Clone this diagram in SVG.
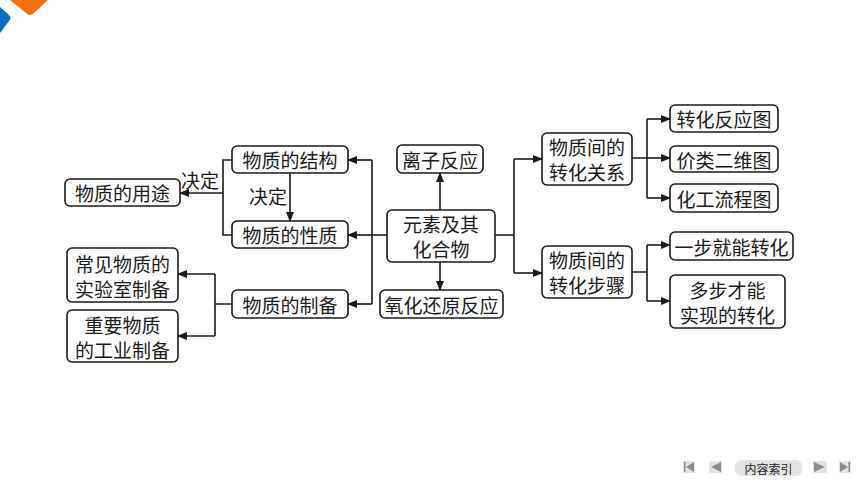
<svg xmlns="http://www.w3.org/2000/svg" width="860" height="484" viewBox="0 0 860 484">
<style>
.box{fill:#fff;stroke:#1a1a1a;stroke-width:1.6}
.t{font-family:"Noto Sans CJK SC","Noto Sans CJK JP",sans-serif;font-size:19px;fill:#1a1a1a;text-anchor:middle;dominant-baseline:central}
.ln{fill:none;stroke:#1a1a1a;stroke-width:1.6}
.ar{fill:none;stroke:#1a1a1a;stroke-width:1.6;marker-end:url(#ah)}
.nav{fill:#e3e3e3}
.navi{fill:#8c8c8c}
</style>
<defs>
<marker id="ah" markerUnits="userSpaceOnUse" markerWidth="10" markerHeight="8" refX="9" refY="4" orient="auto">
<path d="M0,0 L10,4 L0,8 Z" fill="#1a1a1a"/>
</marker>
</defs>
<rect width="860" height="484" fill="#fff"/>
<g id="decor">
<path d="M10,0 H48 L34,13 Q30,17 26,13 Z" fill="#f36f10"/>
<path d="M0,7 L9,15 Q12,18 9,21 L0,33 Z" fill="#0a6fc2"/>
</g>
<g id="connectors">
<path class="ln" d="M232,160 H223 V235 H232"/>
<path class="ar" d="M223,193 H180"/>
<path class="ar" d="M290,173 V221"/>
<path class="ln" d="M387,235 H372 M372,160 V304"/>
<path class="ar" d="M372,160 H348"/>
<path class="ar" d="M372,235 H348"/>
<path class="ar" d="M372,304 H348"/>
<path class="ln" d="M232,304 H215 M215,274 V336"/>
<path class="ar" d="M215,274 H178"/>
<path class="ar" d="M215,336 H178"/>
<path class="ar" d="M440,210 V173"/>
<path class="ar" d="M440,262 V290"/>
<path class="ln" d="M495,235 H514 M514,159 V273"/>
<path class="ar" d="M514,159 H542"/>
<path class="ar" d="M514,273 H542"/>
<path class="ln" d="M632,158 H647 M647,119 V198"/>
<path class="ar" d="M647,119 H670"/>
<path class="ar" d="M647,158 H670"/>
<path class="ar" d="M647,198 H670"/>
<path class="ln" d="M632,272 H647 M647,245 V301"/>
<path class="ar" d="M647,245 H670"/>
<path class="ar" d="M647,301 H670"/>
<text class="t" x="200" y="179">决定</text>
<text class="t" x="268" y="195">决定</text>
</g>
<g id="n-jiegou"><rect class="box" x="232" y="146" width="116" height="27" rx="5"/><text class="t" x="290" y="159.5">物质的结构</text></g>
<g id="n-yongtu"><rect class="box" x="65" y="179" width="115" height="27" rx="5"/><text class="t" x="122.5" y="192.5">物质的用途</text></g>
<g id="n-xingzhi"><rect class="box" x="232" y="221" width="116" height="27" rx="5"/><text class="t" x="290" y="234.5">物质的性质</text></g>
<g id="n-zhibei"><rect class="box" x="232" y="290" width="116" height="28" rx="5"/><text class="t" x="290" y="304">物质的制备</text></g>
<g id="n-shiyan"><rect class="box" x="67" y="248" width="111" height="54" rx="5"/><text class="t" x="122.5" y="263">常见物质的</text><text class="t" x="122.5" y="288">实验室制备</text></g>
<g id="n-gongye"><rect class="box" x="67" y="310" width="111" height="52" rx="5"/><text class="t" x="122.5" y="324">重要物质</text><text class="t" x="122.5" y="349">的工业制备</text></g>
<g id="n-lizi"><rect class="box" x="397" y="145" width="86" height="28" rx="5"/><text class="t" x="440" y="159">离子反应</text></g>
<g id="n-yuansu"><rect class="box" x="387" y="210" width="108" height="52" rx="5"/><text class="t" x="441" y="223.5">元素及其</text><text class="t" x="441" y="248">化合物</text></g>
<g id="n-yanghua"><rect class="box" x="380" y="290" width="123" height="28" rx="5"/><text class="t" x="441.5" y="304">氧化还原反应</text></g>
<g id="n-guanxi"><rect class="box" x="542" y="133" width="90" height="52" rx="5"/><text class="t" x="587" y="146.5">物质间的</text><text class="t" x="587" y="171">转化关系</text></g>
<g id="n-buzhou"><rect class="box" x="542" y="246" width="90" height="52" rx="5"/><text class="t" x="587" y="259.5">物质间的</text><text class="t" x="587" y="284">转化步骤</text></g>
<g id="n-fanying"><rect class="box" x="670" y="105" width="108" height="27" rx="5"/><text class="t" x="724" y="118.5">转化反应图</text></g>
<g id="n-jialei"><rect class="box" x="670" y="146" width="108" height="26" rx="5"/><text class="t" x="724" y="159">价类二维图</text></g>
<g id="n-huagong"><rect class="box" x="670" y="184" width="108" height="28" rx="5"/><text class="t" x="724" y="198">化工流程图</text></g>
<g id="n-yibu"><rect class="box" x="670" y="232" width="123" height="28" rx="5"/><text class="t" x="731.5" y="246">一步就能转化</text></g>
<g id="n-duobu"><rect class="box" x="670" y="275" width="115" height="53" rx="5"/><text class="t" x="727.5" y="289">多步才能</text><text class="t" x="727.5" y="314">实现的转化</text></g>
<g id="nav">
<rect class="nav" x="683" y="461" width="12" height="12"/>
<rect class="navi" x="684" y="462" width="1.5" height="10"/>
<path class="navi" d="M694,462 L686,467 L694,472 Z"/>
<rect class="nav" x="709" y="461" width="13" height="12"/>
<path class="navi" d="M721,462 L711,467 L721,472 Z"/>
<rect class="nav" x="735" y="460" width="67" height="16" rx="6"/>
<text x="768.5" y="468" style="font-family:'Noto Sans CJK SC',sans-serif;font-size:12px;fill:#222;text-anchor:middle;dominant-baseline:central">内容索引</text>
<rect class="nav" x="813" y="461" width="14" height="12"/>
<path class="navi" d="M814,462 L825,467 L814,472 Z"/>
<rect class="nav" x="839" y="461" width="12" height="12"/>
<path class="navi" d="M840,462 L848,467 L840,472 Z"/>
<rect class="navi" x="848.5" y="462" width="1.5" height="10"/>
</g>
</svg>
